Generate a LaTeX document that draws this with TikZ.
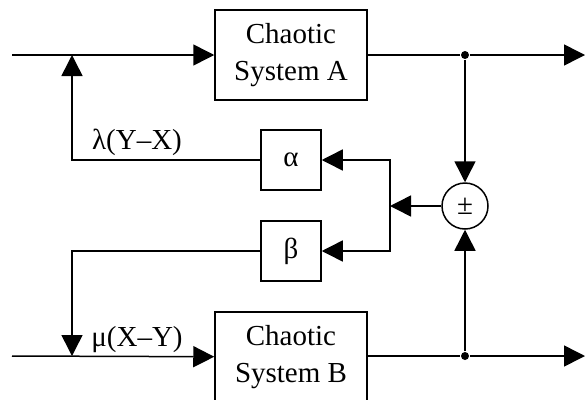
\documentclass[tikz,border=0pt]{standalone}
\usepackage{fontspec}
\setmainfont{Liberation Serif}
\usetikzlibrary{arrows.meta}

\begin{document}
\begin{tikzpicture}[x=1pt, y=-1pt, line width=1.5pt, font=\fontsize{29}{37}\selectfont,
    >={Triangle[length=21pt,width=21pt]},
    box/.style={draw, inner sep=0pt, align=center, minimum width=152pt, minimum height=90pt},
    gain/.style={draw, inner sep=0pt, minimum size=60pt},
    sum/.style={draw, circle, inner sep=0pt, minimum size=46pt},
    dot/.style={circle, fill, inner sep=0pt, minimum size=8pt}]
  \clip (0,0) rectangle (585,399);
  \node[box]  (sysA)  at (291,55)  {Chaotic\\ System A};
  \node[box]  (sysB)  at (291,357) {Chaotic\\ System B};
  \node[gain] (alpha) at (291,160) {α};
  \node[gain] (beta)  at (291,251) {β};
  \node[sum]  (sum)   at (465,206) {±};
  \node[dot]  (topdot) at (465,55) {};
  \node[dot]  (botdot) at (465,356) {};
  \coordinate (inA)    at (12,55);
  \coordinate (inB)    at (12,356);
  \coordinate (outA)   at (585,55);
  \coordinate (outB)   at (585,356);
  \coordinate (lamjoin) at (72,55);
  \coordinate (mujoin)  at (72,356);
  \coordinate (split)   at (390,206);
  \draw[->] (inA) -- (sysA);
  \draw[->] (inB) -- (sysB);
  \draw (sysA) -- (topdot);
  \draw (sysB.east |- botdot) -- (botdot);
  \draw[->] (topdot) -- (outA);
  \draw[->] (botdot) -- (outB);
  \draw[->] (topdot) -- (sum);
  \draw[->] (botdot) -- (sum);
  \draw[->] (sum) -- (split);
  \draw[->] (split) |- (alpha);
  \draw[->] (split) |- (beta);
  \draw[->] (alpha) -| (lamjoin);
  \draw[->] (beta) -| (mujoin);
  \node (lamlabel) at (137,142) {λ(Y–X)};
  \node (mulabel)  at (137,340) {μ(X–Y)};
\end{tikzpicture}
\end{document}
